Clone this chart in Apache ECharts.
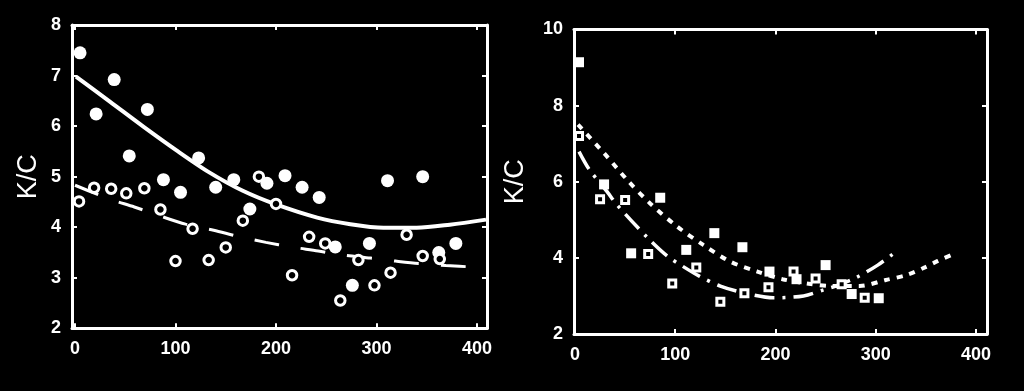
<!DOCTYPE html>
<html>
<head>
<meta charset="utf-8">
<script src="https://cdn.jsdelivr.net/npm/echarts@6/dist/echarts.min.js"></script>
<style>
html,body{margin:0;padding:0;background:#000;}
#chart{width:1024px;height:391px;}
</style>
</head>
<body>
<div id="chart"></div>
<script>
// Tick labels
const xTicks = [0, 100, 200, 300, 400];
const leftYTicks = [2, 3, 4, 5, 6, 7, 8];
const rightYTicks = [2, 4, 6, 8, 10];
const yName = 'K/C';

// Left panel: filled circles and open circles
const leftFilled = [[5,7.45],[21,6.24],[39,6.92],[54,5.41],[72,6.33],[88,4.94],[105,4.69],[123,5.37],[140,4.79],[158,4.94],[174,4.36],[191,4.87],[209,5.02],[226,4.79],[243,4.59],[259,3.61],[276,2.85],[293,3.68],[311,4.92],[346,5.0],[362,3.5],[379,3.68]];
const leftOpen = [[4,4.51],[19,4.78],[36,4.76],[51,4.67],[69,4.77],[85,4.35],[100,3.33],[117,3.97],[133,3.35],[150,3.60],[167,4.13],[183,5.0],[200,4.46],[216,3.05],[233,3.81],[249,3.68],[264,2.55],[282,3.35],[298,2.85],[314,3.10],[330,3.85],[346,3.43],[363,3.37]];
// Left panel fitted curves
const leftFilledFit = [[1,6.98],[35,6.48],[68,5.99],[101,5.52],[134,5.08],[167,4.72],[200,4.45],[241,4.19],[274,4.06],[307,3.99],[340,3.99],[373,4.05],[409,4.15]];
const leftOpenFit = [[0,4.83],[34,4.56],[59,4.40],[85,4.22],[110,4.06],[138,3.94],[162,3.82],[190,3.70],[215,3.61],[242,3.53],[266,3.45],[294,3.39],[319,3.33],[342,3.28],[369,3.24],[400,3.21]];

// Right panel: filled squares and open squares
const rightFilled = [[4,9.14],[29,5.93],[56,4.12],[85,5.58],[111,4.21],[139,4.65],[167,4.28],[194,3.64],[221,3.44],[250,3.81],[276,3.05],[303,2.94]];
const rightOpen = [[4,7.20],[25,5.54],[50,5.52],[73,4.10],[97,3.33],[121,3.75],[145,2.85],[169,3.07],[193,3.23],[218,3.64],[240,3.46],[266,3.31],[289,2.95]];
// Right panel fitted curves
const rightFilledFit = [[3,7.5],[29,6.75],[52,6.05],[75,5.43],[102,4.82],[128,4.34],[155,3.90],[182,3.64],[207,3.44],[231,3.33],[256,3.26],[284,3.26],[310,3.42],[331,3.55],[349,3.75],[362,3.92],[375,4.07]];
const rightOpenFit = [[4,6.79],[14,6.33],[32,5.74],[42,5.39],[72,4.54],[92,4.05],[108,3.77],[124,3.52],[145,3.26],[170,3.07],[198,2.95],[228,3.0],[248,3.16],[260,3.26],[281,3.49],[302,3.81],[318,4.12]];

const FONT = 'Liberation Sans';
const W = '#ffffff';

function xAxisDef(grid, min, max, pos, labels) {
  return {
    type: 'value', gridIndex: grid, position: pos, min: min, max: max,
    axisLine: {show: true, onZero: false, lineStyle: {color: W, width: 3}},
    axisTick: {show: true, inside: true, length: 5, lineStyle: {color: W, width: 2}, customValues: xTicks},
    axisLabel: {show: labels, color: W, fontFamily: FONT, fontWeight: 'bold', fontSize: 18, margin: 12, customValues: xTicks},
    splitLine: {show: false}
  };
}
function yAxisDef(grid, min, max, interval, pos, labels, nameGap) {
  const a = {
    type: 'value', gridIndex: grid, position: pos, min: min, max: max, interval: interval,
    axisLine: {show: true, onZero: false, lineStyle: {color: W, width: 3}},
    axisTick: {show: true, inside: true, length: 5, lineStyle: {color: W, width: 2}},
    axisLabel: {show: labels, color: W, fontFamily: FONT, fontWeight: 'bold', fontSize: 18, margin: 11},
    splitLine: {show: false}
  };
  if (labels) {
    a.name = yName;
    a.nameLocation = 'middle';
    a.nameGap = nameGap;
    a.nameTextStyle = {color: W, fontFamily: FONT, fontSize: 27};
  }
  return a;
}

const chart = echarts.init(document.getElementById('chart'), null, {renderer: 'canvas'});
chart.setOption({
  backgroundColor: '#000',
  animation: false,
  grid: [
    {left: 72, top: 25, width: 415, height: 303.3},
    {left: 574, top: 29.5, width: 413, height: 304.5}
  ],
  xAxis: [
    xAxisDef(0, -3, 410, 'bottom', true),
    xAxisDef(0, -3, 410, 'top', false),
    xAxisDef(1, -1, 411, 'bottom', true),
    xAxisDef(1, -1, 411, 'top', false)
  ],
  yAxis: [
    yAxisDef(0, 2, 8, 1, 'left', true, 30),
    yAxisDef(0, 2, 8, 1, 'right', false),
    yAxisDef(1, 2, 10, 2, 'left', true, 45),
    yAxisDef(1, 2, 10, 2, 'right', false)
  ],
  series: [
    {type: 'line', xAxisIndex: 0, yAxisIndex: 0, data: leftFilledFit, smooth: 0.3, symbol: 'none',
     lineStyle: {color: W, width: 4}, z: 2},
    {type: 'line', xAxisIndex: 0, yAxisIndex: 0, data: leftOpenFit, smooth: 0.3, symbol: 'none',
     lineStyle: {color: W, width: 3, type: [25, 22]}, z: 2},
    {type: 'scatter', xAxisIndex: 0, yAxisIndex: 0, data: leftFilled, symbol: 'circle', symbolSize: 13,
     itemStyle: {color: W, opacity: 1}, z: 3},
    {type: 'scatter', xAxisIndex: 0, yAxisIndex: 0, data: leftOpen, symbol: 'circle', symbolSize: 9.5,
     itemStyle: {color: '#000', borderColor: W, borderWidth: 3, opacity: 1}, z: 4},
    {type: 'line', xAxisIndex: 2, yAxisIndex: 2, data: rightFilledFit, smooth: 0.3, symbol: 'none',
     lineStyle: {color: W, width: 4, type: [6, 7]}, z: 2},
    {type: 'line', xAxisIndex: 2, yAxisIndex: 2, data: rightOpenFit, smooth: 0.3, symbol: 'none',
     lineStyle: {color: W, width: 3.5, type: [20, 8, 3, 8]}, z: 2},
    {type: 'scatter', xAxisIndex: 2, yAxisIndex: 2, data: rightFilled, symbol: 'rect', symbolSize: 10,
     itemStyle: {color: W, opacity: 1}, z: 3},
    {type: 'scatter', xAxisIndex: 2, yAxisIndex: 2, data: rightOpen, symbol: 'rect', symbolSize: 7,
     itemStyle: {color: '#000', borderColor: W, borderWidth: 3, opacity: 1}, z: 4}
  ]
});
</script>
</body>
</html>
